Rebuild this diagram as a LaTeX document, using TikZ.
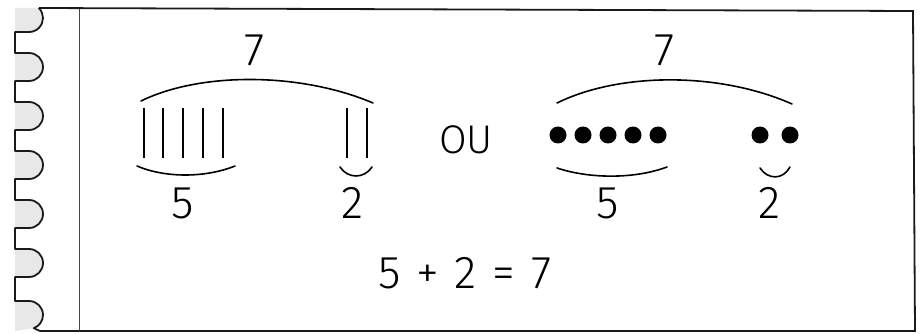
\documentclass[tikz,border=0pt]{standalone}
\usepackage{fontspec}
\setmainfont{Fira Sans}[UprightFont=* Light]
\begin{document}
\begin{tikzpicture}[x=1pt,y=-1pt,
  frame/.style={line width=1.8pt,draw={rgb,255:red,30;green,25;blue,25}},
  brace/.style={line width=1.6pt,line cap=round},
  bar/.style={line width=2.8pt},
  dot/.style={circle,fill=black,inner sep=0pt,minimum size=17pt},
  big/.style={font=\fontsize{46}{46}\selectfont,inner sep=0pt},
  word/.style={font=\fontsize{40}{40}\selectfont,inner sep=0pt}]
\useasboundingbox (0,0) rectangle (922,334);
% scalloped left edge
\foreach \c in {67,116,165,214,263}{
  \fill[gray!18] (15,\c-14) -- (29,\c-14) arc[start angle=-90,end angle=90,radius=14] -- (15,\c+14) -- cycle;
}
\fill[gray!18] (38.8,8) arc[start angle=-45.6,end angle=90,radius=14] -- (15,32) -- (15,8) -- cycle;
\fill[gray!18] (15,301) -- (29,301) arc[start angle=-90,end angle=70,radius=14] -- (15,331) -- cycle;
\draw[frame,line join=round]
  (38.8,8) arc[start angle=-45.6,end angle=90,radius=14] -- (15,32)
  -- (15,53) -- (29,53) arc[start angle=-90,end angle=90,radius=14] -- (15,81)
  -- (15,102) -- (29,102) arc[start angle=-90,end angle=90,radius=14] -- (15,130)
  -- (15,151) -- (29,151) arc[start angle=-90,end angle=90,radius=14] -- (15,179)
  -- (15,200) -- (29,200) arc[start angle=-90,end angle=90,radius=14] -- (15,228)
  -- (15,249) -- (29,249) arc[start angle=-90,end angle=90,radius=14] -- (15,277)
  -- (15,301) -- (29,301) arc[start angle=-90,end angle=70,radius=14] -- (40,331);
\draw[frame] (38.8,8) -- (913,11) -- (915,331) -- (40,331);
\draw[line width=1pt,draw={rgb,255:red,95;green,55;blue,55}] (79,9) -- (79,331);
% left group
\node[big] (s7a) at (255,50) {7};
\draw[brace] (141,101) .. controls (200,72) and (300,72) .. (373,103);
\foreach \x in {144,163,183,203,223}{\draw[bar] (\x,108) -- (\x,158);}
\foreach \x in {347,367}{\draw[bar] (\x,108) -- (\x,158);}
\draw[brace] (137,166) .. controls (165,178) and (205,178) .. (235,166);
\draw[brace] (340,167) .. controls (348,179) and (364,179) .. (372,167);
\node[big] (s5a) at (183,203) {5};
\node[big] (s2a) at (353,203) {2};
\node[word] (ou) at (466,140) {OU};
% right group
\node[big] (s7b) at (665,50) {7};
\draw[brace] (557,103) .. controls (620,72) and (720,72) .. (792,104);
\foreach \x [count=\i] in {558,583,608,633,658}{\node[dot] (d\i) at (\x,135) {};}
\node[dot] (d6) at (760,135) {};
\node[dot] (d7) at (790,135) {};
\draw[brace] (557,168) .. controls (590,179) and (635,179) .. (667,167);
\draw[brace] (760,168) .. controls (768,180) and (783,180) .. (790,167);
\node[big] (s5b) at (608,203) {5};
\node[big] (s2b) at (770,203) {2};
% equation
\node[big] (eq) at (466,273) {\makebox[38pt]{5}\makebox[38pt]{+}\makebox[38pt]{2}\makebox[38pt]{=}\makebox[38pt]{7}};
\end{tikzpicture}
\end{document}
